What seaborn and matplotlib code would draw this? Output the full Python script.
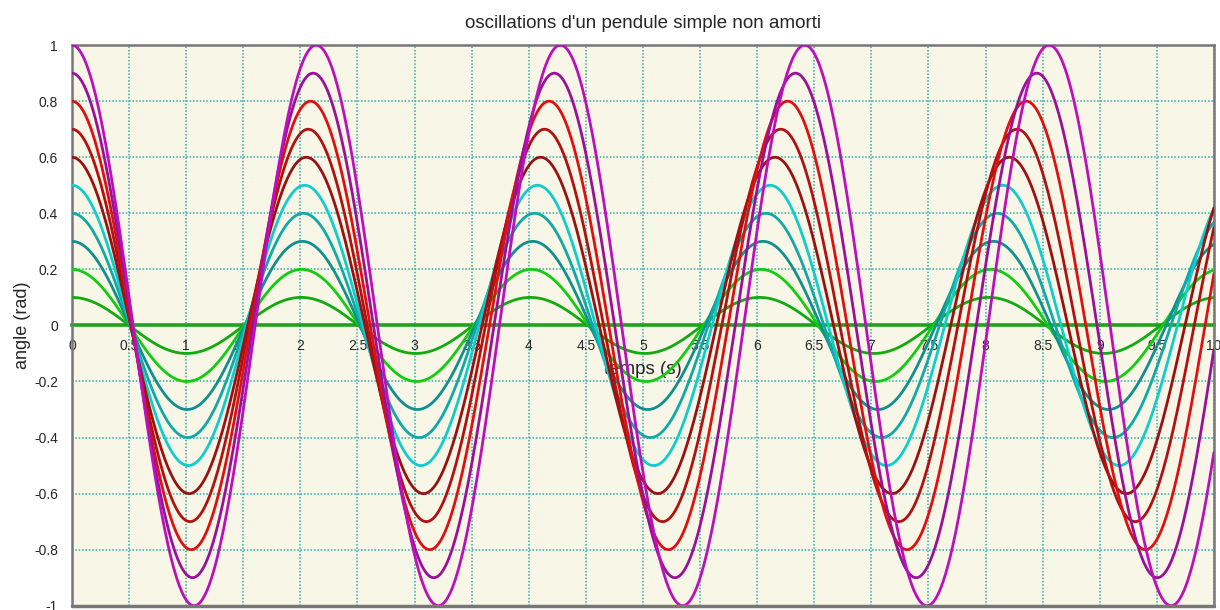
import numpy as np
import pandas as pd
import matplotlib
matplotlib.use("Agg")
import matplotlib.pyplot as plt
import seaborn as sns
from matplotlib.ticker import MultipleLocator, FuncFormatter

# amplitudes (rad) and periods (s)
amplitudes = [0.1, 0.2, 0.3, 0.4, 0.5, 0.6, 0.7, 0.8, 0.9, 1.0]
periods = [2.007, 2.011, 2.017, 2.026, 2.038, 2.052, 2.069, 2.089, 2.112, 2.139]
colors = ["#11aa11", "#11cc11", "#118f8f", "#11a8a8", "#11cccc",
          "#991111", "#b01111", "#dd1111", "#991199", "#bb11bb"]

t = np.linspace(0, 10, 1500)
frames = []
for a, T in zip(amplitudes, periods):
    frames.append(pd.DataFrame({"t": t, "angle": a * np.cos(2 * np.pi * t / T), "amp": a}))
df = pd.concat(frames, ignore_index=True)

sns.set_style("white")
plt.rcParams["font.family"] = ["Liberation Sans", "DejaVu Sans"]

fig = plt.figure(figsize=(12.2, 6.1), dpi=100)
ax = fig.add_axes([0.059, 0.007, 0.936, 0.919])
ax.set_facecolor("#f8f6e6")

sns.lineplot(data=df, x="t", y="angle", hue="amp", palette=colors,
             linewidth=2.0, legend=False, ax=ax, zorder=3)

ax.set_xlim(0, 10)
ax.set_ylim(-1, 1)

# x axis drawn through zero
ax.spines["bottom"].set_position(("data", 0))
ax.spines["bottom"].set_color("#22a022")
ax.spines["bottom"].set_linewidth(2.6)
ax.spines["bottom"].set_zorder(2)
ax.axhline(-1, color="#777777", lw=2.5, zorder=4, clip_on=False)
for s in ["left", "top", "right"]:
    ax.spines[s].set_color("#777777")
    ax.spines[s].set_linewidth(1.8)

ax.xaxis.set_major_locator(MultipleLocator(0.5))
ax.xaxis.set_minor_locator(MultipleLocator(0.1))
ax.yaxis.set_major_locator(MultipleLocator(0.2))
ax.yaxis.set_minor_locator(MultipleLocator(0.1))
fmt = FuncFormatter(lambda v, p: ("%g" % round(v, 2)))
ax.xaxis.set_major_formatter(fmt)
ax.yaxis.set_major_formatter(fmt)

ax.tick_params(axis="x", which="major", direction="out", length=6, width=1,
               color="#777777", labelsize=10, pad=4)
ax.tick_params(axis="x", which="minor", direction="out", length=4, width=1, color="#999999")
ax.tick_params(axis="y", which="major", direction="out", length=7, width=1.2,
               color="#777777", labelsize=10, pad=3)
ax.tick_params(axis="y", which="minor", direction="out", length=5, width=1.2, color="#777777")

ax.grid(True, which="major", color="#33aaaa", linestyle=(0, (1, 1.2)), linewidth=1.1)
ax.set_axisbelow(True)

ax.set_xlabel("temps (s)", fontsize=13.5)
ax.xaxis.set_label_coords(0.5, 0.437)
ax.set_ylabel("angle (rad)", fontsize=13, labelpad=2)
ax.set_title("oscillations d'un pendule simple non amorti", fontsize=13.5, pad=12)

fig.savefig("out.png", dpi=100)
